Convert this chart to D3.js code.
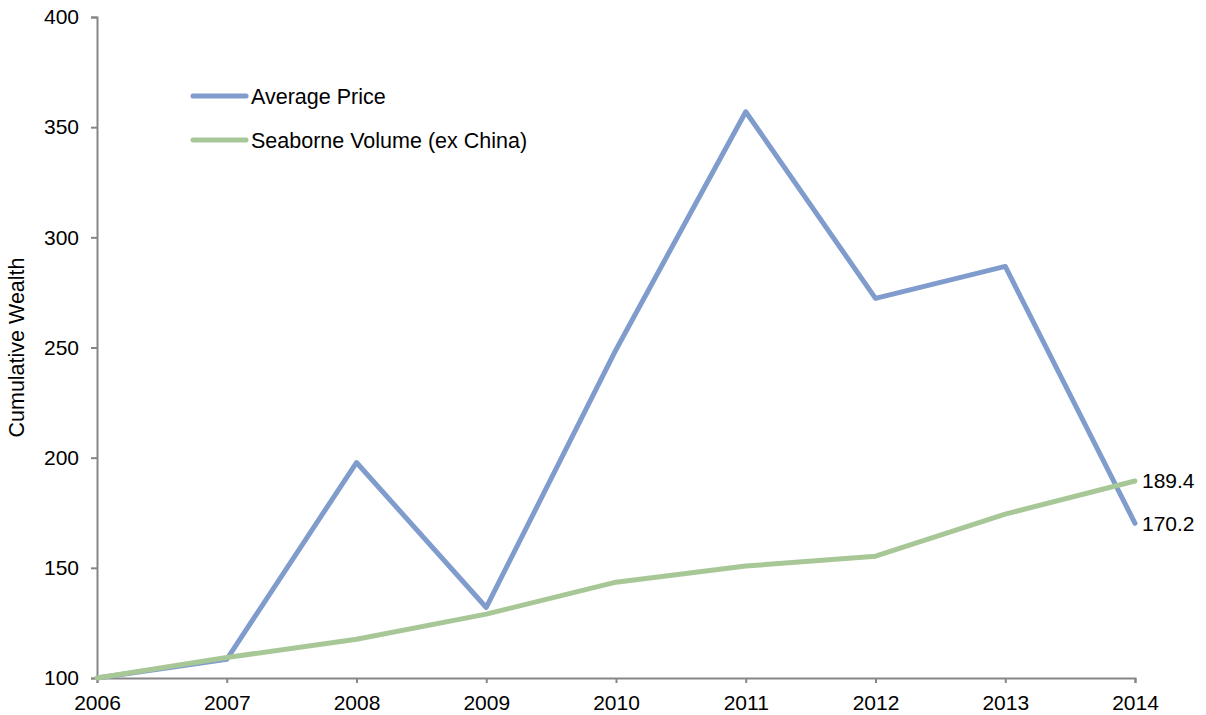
<!DOCTYPE html>
<html>
<head>
<meta charset="utf-8">
<script src="https://cdn.jsdelivr.net/npm/d3@7"></script>
<style>
  body { margin: 0; background: #fff; }
  text { font-family: "Liberation Sans", Arial, sans-serif; fill: #000; }
</style>
</head>
<body>
<div id="chart"></div>
<script>
const years = [2006, 2007, 2008, 2009, 2010, 2011, 2012, 2013, 2014];
const averagePrice = [100, 108.5, 197.8, 132, 249, 357, 272.3, 286.8, 170.2];
const seaborneVolume = [100, 109.3, 117.6, 129, 143.5, 150.8, 155.3, 174.4, 189.4];
const yTicks = [100, 150, 200, 250, 300, 350, 400];
const seriesNames = ["Average Price", "Seaborne Volume (ex China)"];
const seriesColors = ["#7f9ccc", "#a8c797"];

const width = 1206, height = 715;
const margin = { left: 97, right: 70, top: 17, bottom: 37 };

const svg = d3.select("#chart").append("svg")
    .attr("width", width)
    .attr("height", height);

const x = d3.scaleLinear()
    .domain([2006, 2014])
    .range([margin.left, width - margin.right - 1]);
const y = d3.scaleLinear()
    .domain([100, 400])
    .range([height - margin.bottom, margin.top]);

// y axis
const yAxis = svg.append("g")
    .attr("transform", `translate(${margin.left},0)`)
    .call(d3.axisLeft(y).tickValues(yTicks).tickSize(6).tickPadding(12).tickFormat(d3.format("d")));
yAxis.selectAll("text").style("font-size", "21px");

// x axis
const xAxis = svg.append("g")
    .attr("transform", `translate(0,${y(100)})`)
    .call(d3.axisBottom(x).tickValues(years).tickSize(5).tickPadding(12).tickFormat(d3.format("d")));
xAxis.selectAll("text").style("font-size", "21px");

svg.selectAll(".domain, .tick line")
    .attr("stroke", "#868686")
    .attr("stroke-width", 2);

svg.append("text")
    .attr("transform", `translate(24,${(margin.top + y(100)) / 2}) rotate(-90)`)
    .attr("text-anchor", "middle")
    .style("font-size", "21.5px")
    .text("Cumulative Wealth");

const line = d3.line()
    .x((d, i) => x(years[i]))
    .y(d => y(d));

const series = [averagePrice, seaborneVolume];
series.forEach((vals, k) => {
    svg.append("path")
        .datum(vals)
        .attr("fill", "none")
        .attr("stroke", seriesColors[k])
        .attr("stroke-width", 5)
        .attr("stroke-linejoin", "round")
        .attr("stroke-linecap", "round")
        .attr("d", line);
});

// end labels
svg.selectAll(".end-label")
    .data(series)
    .enter()
    .append("text")
    .attr("class", "end-label")
    .attr("x", x(2014) + 7)
    .attr("y", d => y(d[d.length - 1]))
    .attr("dy", "0.35em")
    .style("font-size", "21px")
    .text(d => d[d.length - 1].toFixed(1));

// legend
const legend = svg.append("g");
seriesNames.forEach((name, i) => {
    const ly = 96 + i * 44;
    legend.append("line")
        .attr("x1", 193).attr("x2", 246)
        .attr("y1", ly).attr("y2", ly)
        .attr("stroke", seriesColors[i])
        .attr("stroke-width", 5)
        .attr("stroke-linecap", "round");
    legend.append("text")
        .attr("x", 251)
        .attr("y", ly)
        .attr("dy", "0.35em")
        .style("font-size", "21.5px")
        .text(name);
});
</script>
</body>
</html>
